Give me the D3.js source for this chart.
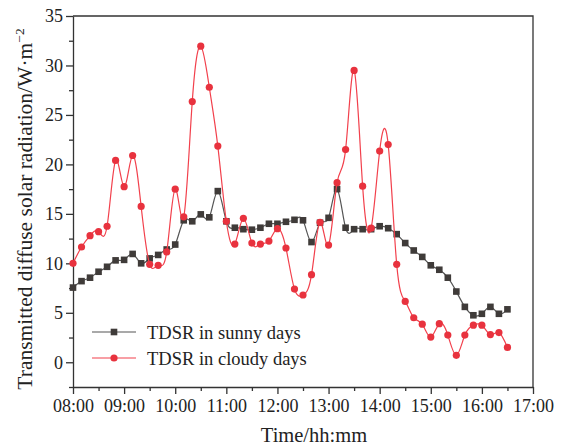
<!DOCTYPE html>
<html>
<head>
<meta charset="utf-8">
<script src="https://cdn.jsdelivr.net/npm/d3@7"></script>
<style>
  body { margin: 0; background: #fff; }
  text { font-family: "Liberation Serif", "Times New Roman", serif; fill: #222; }
</style>
</head>
<body>
<div class="canvas"></div>
<script>
// time stamps, every 10 minutes
const times = [
  '08:00','08:10','08:20','08:30','08:40','08:50','09:00','09:10','09:20','09:30','09:40','09:50',
  '10:00','10:10','10:20','10:30','10:40','10:50','11:00','11:10','11:20','11:30','11:40','11:50',
  '12:00','12:10','12:20','12:30','12:40','12:50','13:00','13:10','13:20','13:30','13:40','13:50',
  '14:00','14:10','14:20','14:30','14:40','14:50','15:00','15:10','15:20','15:30','15:40','15:50',
  '16:00','16:10','16:20','16:30'
];

// TDSR in sunny days
const sunny = [
  7.55, 8.2, 8.55, 9.15, 9.65, 10.3, 10.35, 10.95, 10.0, 10.5, 10.85, 11.4,
  11.9, 14.35, 14.25, 14.95, 14.65, 17.3, 14.25, 13.6, 13.45, 13.4, 13.6, 14.0,
  14.0, 14.2, 14.4, 14.35, 12.15, 14.1, 14.6, 17.5, 13.6, 13.45, 13.45, 13.45,
  13.75, 13.55, 12.95, 12.05, 11.3, 10.65, 9.8, 9.35, 8.55, 7.15, 5.6, 4.75,
  4.9, 5.6, 4.9, 5.35
];

// TDSR in cloudy days
const cloudy = [
  10.0, 11.65, 12.8, 13.2, 13.75, 20.4, 17.75, 20.9, 15.75, 9.9, 9.8, 11.15,
  17.5, 14.7, 26.35, 31.95, 27.8, 21.85, 14.25, 11.95, 14.55, 12.05, 11.95, 12.25,
  13.5, 11.55, 7.4, 6.8, 8.85, 14.15, 11.85, 18.15, 21.5, 29.5, 17.8, 13.55,
  21.35, 22.0, 9.9, 6.15, 4.5, 3.85, 2.55, 3.9, 2.75, 0.7, 2.75, 3.75,
  3.75, 2.8, 3.0, 1.5
];

const xTicks = ['08:00','09:00','10:00','11:00','12:00','13:00','14:00','15:00','16:00','17:00'];
const yTicks = [0, 5, 10, 15, 20, 25, 30, 35];

const legendNames = ['TDSR in sunny days', 'TDSR in cloudy days'];

const width = 563, height = 447;
const margin = {top: 16, right: 30, bottom: 60, left: 73};

const toHours = s => +s.slice(0, 2) + +s.slice(3) / 60;

const svg = d3.select('.canvas')
  .append('svg')
    .attr('width', width)
    .attr('height', height);

const x = d3.scaleLinear()
  .domain([8, 17])
  .range([margin.left, width - margin.right]);

const y = d3.scaleLinear()
  .domain([-2.5, 35])
  .range([height - margin.bottom, margin.top]);

const axisColor = '#333';

// frame (top and right)
svg.append('path')
  .attr('d', `M${x(8)},${y(35)}H${x(17)}V${y(-2.5)}`)
  .attr('fill', 'none')
  .attr('stroke', axisColor)
  .attr('stroke-width', 1.3);

// x axis with minor ticks at half hours
const xAxisGroup = svg.append('g')
  .attr('transform', `translate(0, ${y(-2.5)})`);
xAxisGroup.call(d3.axisBottom(x)
  .tickValues(xTicks.map(toHours))
  .tickFormat((d, i) => xTicks[i])
  .tickSize(7)
  .tickSizeOuter(0)
  .tickPadding(5));
xAxisGroup.append('g')
  .call(d3.axisBottom(x)
    .tickValues(d3.range(8.5, 17, 1))
    .tickFormat('')
    .tickSize(4)
    .tickSizeOuter(0))
  .select('.domain').remove();

// y axis with minor ticks at 2.5
const yAxisGroup = svg.append('g')
  .attr('transform', `translate(${x(8)}, 0)`);
yAxisGroup.call(d3.axisLeft(y)
  .tickValues(yTicks)
  .tickSize(7)
  .tickSizeOuter(0)
  .tickPadding(3));
yAxisGroup.append('g')
  .call(d3.axisLeft(y)
    .tickValues([-2.5, 2.5, 7.5, 12.5, 17.5, 22.5, 27.5, 32.5])
    .tickFormat('')
    .tickSize(4)
    .tickSizeOuter(0))
  .select('.domain').remove();

svg.selectAll('.domain, .tick line')
  .attr('stroke', axisColor)
  .attr('stroke-width', 1.3);
svg.selectAll('.tick text')
  .attr('font-size', 18)
  .attr('fill', '#222')
  .style('font-family', '"Liberation Serif", serif');

// axis titles
svg.append('text')
  .attr('x', 314)
  .attr('y', 442)
  .attr('text-anchor', 'middle')
  .attr('font-size', 20.5)
  .text('Time/hh:mm');

const yTitle = svg.append('text')
  .attr('transform', 'translate(32, 209) rotate(-90)')
  .attr('text-anchor', 'middle')
  .attr('font-size', 21.5);
yTitle.append('tspan').text('Transmitted diffuse solar radiation/W·m');
yTitle.append('tspan').attr('dy', -8).attr('font-size', 13.5).text('−2');

// series
const series = [
  {values: sunny, line: '#555', marker: '#3f3b39', shape: 'square'},
  {values: cloudy, line: '#f2404c', marker: '#e8323e', shape: 'circle'}
];

const line = d3.line()
  .x((d, i) => x(toHours(times[i])))
  .y(d => y(d))
  .curve(d3.curveNatural);

series.forEach(s => {
  svg.append('path')
    .datum(s.values)
    .attr('fill', 'none')
    .attr('stroke', s.line)
    .attr('stroke-width', 1.2)
    .attr('d', line);

  if (s.shape === 'square') {
    svg.append('g').selectAll('rect')
      .data(s.values)
      .enter()
      .append('rect')
        .attr('x', (d, i) => x(toHours(times[i])) - 3.3)
        .attr('y', d => y(d) - 3.3)
        .attr('width', 6.6)
        .attr('height', 6.6)
        .attr('fill', s.marker);
  } else {
    svg.append('g').selectAll('circle')
      .data(s.values)
      .enter()
      .append('circle')
        .attr('cx', (d, i) => x(toHours(times[i])))
        .attr('cy', d => y(d))
        .attr('r', 3.6)
        .attr('fill', s.marker);
  }
});

// legend
const legend = svg.append('g');
legendNames.forEach((name, i) => {
  const s = series[i];
  const ly = 332 + i * 26;
  legend.append('line')
    .attr('x1', 92).attr('x2', 136)
    .attr('y1', ly).attr('y2', ly)
    .attr('stroke', s.line)
    .attr('stroke-width', 1.2);
  if (s.shape === 'square') {
    legend.append('rect')
      .attr('x', 114 - 3.3).attr('y', ly - 3.3)
      .attr('width', 6.6).attr('height', 6.6)
      .attr('fill', s.marker);
  } else {
    legend.append('circle')
      .attr('cx', 114).attr('cy', ly).attr('r', 3.6)
      .attr('fill', s.marker);
  }
  legend.append('text')
    .attr('x', 147)
    .attr('y', ly + 6.5)
    .attr('font-size', 18.5)
    .text(name);
});
</script>
</body>
</html>
